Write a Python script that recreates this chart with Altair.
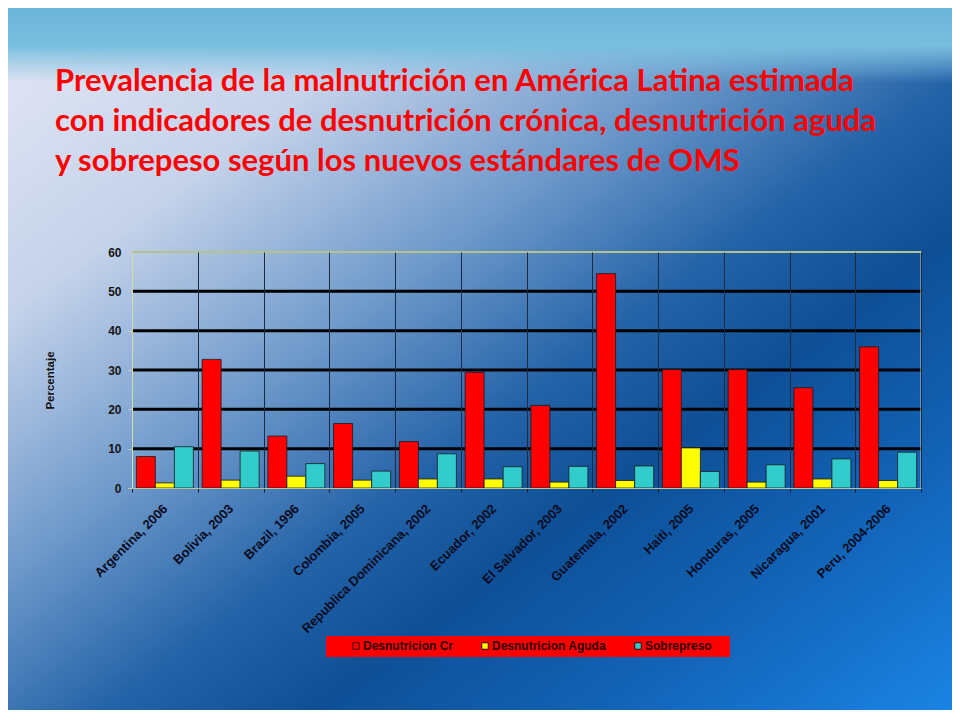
import altair as alt
import pandas as pd

paises = ["Argentina, 2006", "Bolivia, 2003", "Brazil, 1996", "Colombia, 2005",
          "Republica Dominicana, 2002", "Ecuador, 2002", "El Salvador, 2003",
          "Guatemala, 2002", "Haiti, 2005", "Honduras, 2005", "Nicaragua, 2001",
          "Peru, 2004-2006"]
series = ["Desnutricion Cr", "Desnutricion Aguda", "Sobrepreso"]
cronica = [8.0, 32.7, 13.2, 16.4, 11.8, 29.4, 21.0, 54.5, 30.1, 30.1, 25.5, 35.9]
aguda = [1.3, 2.0, 3.0, 2.0, 2.3, 2.3, 1.5, 1.9, 10.2, 1.5, 2.3, 1.9]
sobrepeso = [10.5, 9.4, 6.2, 4.3, 8.7, 5.4, 5.5, 5.6, 4.2, 5.9, 7.4, 9.1]
y_ticks = [0, 10, 20, 30, 40, 50, 60]
grid_vals = [10, 20, 30, 40, 50]
title_lines = ["Prevalencia de la malnutrición en América Latina estimada",
               "con indicadores de desnutrición crónica, desnutrición aguda",
               "y sobrepeso según los nuevos estándares de OMS"]
bar_colors = ["#ff0000", "#ffff00", "#33cccc"]

rows = []
for i, p in enumerate(paises):
    for s, vals in zip(series, [cronica, aguda, sobrepeso]):
        rows.append({"pais": p, "serie": s, "valor": vals[i]})
df = pd.DataFrame(rows)

W, H = 789, 236
PAD_L, PAD_T, PAD_R, PAD_B = 124, 244, 31, 222
TOT_W = W + PAD_L + PAD_R
TOT_H = H + PAD_T + PAD_B

one = pd.DataFrame({"a": [0]})

bg_grad = alt.LinearGradient(
    gradient="linear", x1=0, y1=0, x2=1, y2=1,
    stops=[alt.GradientStop(offset=0.0, color="#e6e8f6"),
           alt.GradientStop(offset=0.22, color="#c4d2ea"),
           alt.GradientStop(offset=0.40, color="#6f9acb"),
           alt.GradientStop(offset=0.55, color="#2463a8"),
           alt.GradientStop(offset=0.66, color="#0e4f96"),
           alt.GradientStop(offset=0.82, color="#1264b8"),
           alt.GradientStop(offset=1.0, color="#1a84e4")])

bg = alt.Chart(one).mark_rect(fill=bg_grad).encode(
    x=alt.value(-PAD_L), x2=alt.value(TOT_W - PAD_L),
    y=alt.value(-PAD_T), y2=alt.value(TOT_H - PAD_T))

top_grad = alt.LinearGradient(
    gradient="linear", x1=0, y1=0, x2=0, y2=1,
    stops=[alt.GradientStop(offset=0.0, color="#6cb4da"),
           alt.GradientStop(offset=0.5, color="#78bede"),
           alt.GradientStop(offset=1.0, color="rgba(130,196,228,0)")])
top_band = alt.Chart(one).mark_rect(fill=top_grad).encode(
    x=alt.value(-PAD_L), x2=alt.value(TOT_W - PAD_L),
    y=alt.value(-PAD_T), y2=alt.value(-PAD_T + 75))

legend_box = alt.Chart(one).mark_rect(fill="#ff0000").encode(
    x=alt.value(194), x2=alt.value(598), y=alt.value(384), y2=alt.value(405))

y_axis = alt.Axis(values=y_ticks, title="Percentaje", grid=False,
                  labelFont="Arial", labelFontWeight="bold",
                  labelFontSize=12, labelColor="#151515",
                  tickSize=4, tickColor="#c8d0a8",
                  domainColor="#d4dcac", labelPadding=7,
                  titleFont="Arial", titleFontWeight="bold",
                  titleFontSize=11.5, titleColor="#111111",
                  titleX=-82, titleY=128, titleAngle=-90,
                  titleAlign="center", titleBaseline="middle",
                  zindex=1)
y_scale = alt.Scale(domain=[0, 60])

grid = alt.Chart(pd.DataFrame({"valor": grid_vals})).mark_rule(
    color="#000000", strokeWidth=3).encode(
    y=alt.Y("valor:Q", scale=y_scale, axis=y_axis))

bars = alt.Chart(df).mark_bar(stroke="#1a1a1a", strokeWidth=0.8).encode(
    x=alt.X("pais:N", sort=paises,
            scale=alt.Scale(paddingInner=0, paddingOuter=0),
            axis=alt.Axis(title=None, labelAngle=-45, labelFont="Arial",
                          labelFontWeight="bold", labelFontSize=13,
                          labelColor="#0b0b20", grid=True, gridColor="#1c2a44",
                          gridWidth=1, tickBand="extent", tickColor="#1a1a2a",
                          tickSize=4, domainColor="#b8c4a0", zindex=1,
                          labelPadding=10, labelOffset=-4, labelLimit=300)),
    xOffset=alt.XOffset("serie:N", sort=series,
                        scale=alt.Scale(paddingInner=0, paddingOuter=0.23)),
    y=alt.Y("valor:Q", scale=y_scale, axis=y_axis),
    color=alt.Color("serie:N", sort=series,
                    scale=alt.Scale(domain=series, range=bar_colors),
                    legend=alt.Legend(title=None, orient="none", legendX=218,
                                      legendY=388, direction="horizontal",
                                      symbolType="square", symbolSize=42,
                                      symbolStrokeColor="#3a0000",
                                      symbolStrokeWidth=1, labelFont="Arial",
                                      labelFontWeight="bold", labelFontSize=12,
                                      labelColor="#2a0000", columnPadding=25,
                                      padding=0, labelOffset=1)))

top_border = alt.Chart(one).mark_rule(color="#b4c488", strokeWidth=2).encode(
    x=alt.value(0), x2=alt.value(W), y=alt.value(0))
right_border = alt.Chart(one).mark_rule(color="#c8d4b0", strokeWidth=1).encode(
    x=alt.value(W), y=alt.value(0), y2=alt.value(H))

title = alt.Chart(pd.DataFrame({"t": ["\n".join(title_lines)]})).mark_text(
    align="left", baseline="alphabetic", font="Lato", fontWeight="bold",
    fontSize=31, color="#ff0000", lineBreak="\n", lineHeight=40).encode(
    text="t:N", x=alt.value(47 - PAD_L), y=alt.value(83 - PAD_T))

chart = alt.layer(bg, top_band, legend_box, grid, bars, top_border,
                  right_border, title).properties(
    width=W, height=H,
    padding={"left": PAD_L, "top": PAD_T, "right": PAD_R, "bottom": PAD_B},
    autosize=alt.AutoSizeParams(type="none"),
).configure_view(stroke=None)

chart.save("out.html", embed_options={"renderer": "svg", "actions": False})
